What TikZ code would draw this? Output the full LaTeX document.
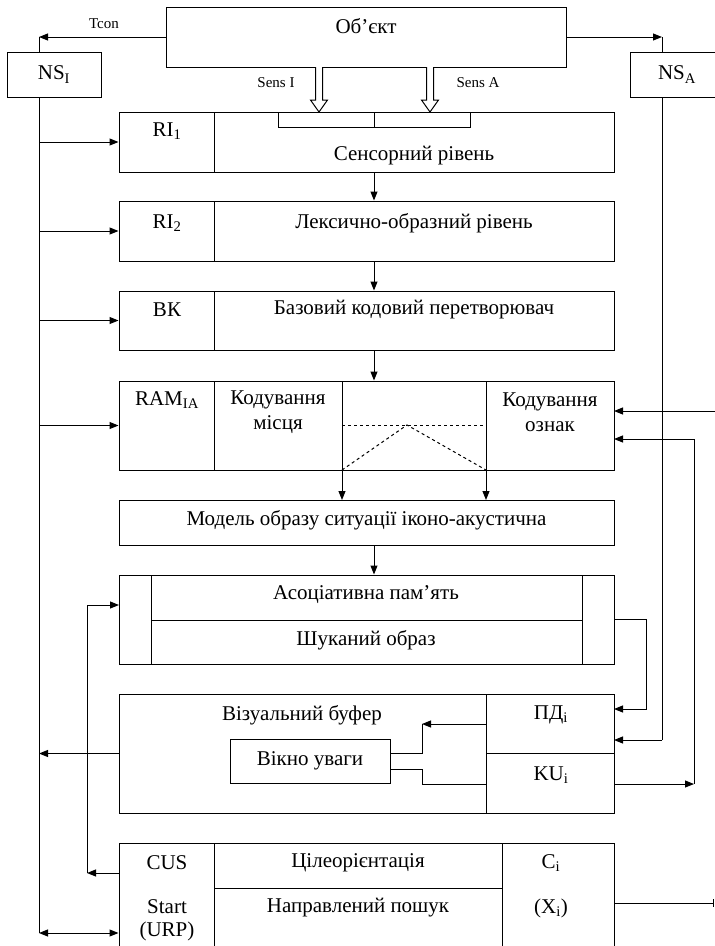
\documentclass[tikz,border=0pt]{standalone}
\usepackage{fontspec}
\setmainfont{Liberation Serif}
\usetikzlibrary{arrows.meta, positioning}

\tikzset{
  blk/.style={draw, inner sep=0pt},
  txt/.style={font=\fontsize{21}{25}\selectfont, inner sep=1pt, align=center},
  small/.style={font=\fontsize{15}{17}\selectfont, inner sep=1pt},
  arr/.style={-{Triangle[length=9pt,width=7pt]}},
  arrs/.style={{Triangle[length=9pt,width=7pt]}-{Triangle[length=9pt,width=7pt]}},
}

\begin{document}
\begin{tikzpicture}[x=1pt, y=-1pt, line width=1pt]
\useasboundingbox (0,0) rectangle (715,946);

% object and noise sources
\node[blk, minimum width=400pt, minimum height=60pt] (obj) at (366,37) {};
\node[txt] at (366,26) {Об’єкт};
\node[blk, minimum width=94pt, minimum height=45pt, txt] (nsi) at (54,74.5) {NS\textsubscript{I}};
\node[blk, minimum width=94pt, minimum height=45pt, txt] (nsa) at (677,74.5) {NS\textsubscript{A}};
\coordinate (tl) at (39,37);
\coordinate (tr) at (662,37);
\draw[arr] (obj.west) -- (tl);
\draw (tl) -- (tl |- nsi.north);
\draw[arr] (obj.east) -- (tr);
\draw (tr) -- (tr |- nsa.north);
\node[small] at (104,24) {Tcon};
\node[small] at (276,83) {Sens I};
\node[small] at (478,83) {Sens A};

% sensor level
\node[blk, minimum width=495pt, minimum height=60pt] (sens) at (366.5,142) {};
\node[blk, anchor=north west, minimum width=95pt, minimum height=60pt] (ri1) at (sens.north west) {};
\node[blk, anchor=north, minimum width=192pt, minimum height=15pt] (sbuf) at (374,112) {};
\draw (sbuf.north) -- (sbuf.south);
\node[txt] at (167,131) {RI\textsubscript{1}};
\node[txt] at (414,156) {Сенсорний рівень};
\foreach \x in {319,430}
  \draw[fill=white] (\x-3.5,67) -- (\x-3.5,100) -- (\x-8.5,100) -- (\x,112)
    -- (\x+8.5,100) -- (\x+3.5,100) -- (\x+3.5,67);

% lexical level
\node[blk, minimum width=495pt, minimum height=60pt] (lex) at (366.5,231) {};
\node[blk, anchor=north west, minimum width=95pt, minimum height=60pt] (ri2) at (lex.north west) {};
\node[txt] at (167,223) {RI\textsubscript{2}};
\node[txt] at (414,223) {Лексично-образний рівень};

% base code converter
\node[blk, minimum width=495pt, minimum height=59pt] (bk) at (366.5,320.5) {};
\node[blk, anchor=north west, minimum width=95pt, minimum height=59pt] (bkl) at (bk.north west) {};
\node[txt] at (167,310) {ВК};
\node[txt] at (414,310) {Базовий кодовий перетворювач};

% RAM
\node[blk, minimum width=495pt, minimum height=89pt] (ram) at (366.5,425.5) {};
\foreach \x in {214,342,486}
  \draw (\x,381) -- (\x,470);
\node[txt] at (167,400) {RAM\textsubscript{IA}};
\node[txt] at (278,412) {Кодування\\місця};
\node[txt] at (550,412) {Кодування\\ознак};
\draw[dashed] (342,425) -- (486,425);
\draw[dashed] (342,470) -- (407,425) -- (486,470);

% model
\node[blk, minimum width=495pt, minimum height=45pt] (mod) at (366.5,522.5) {};
\node[txt] at (366.5,520) {Модель образу ситуації іконо-акустична};
\draw[arr] (342,470) -- (342,500);
\draw[arr] (486,470) -- (486,500);

% associative memory
\node[blk, minimum width=495pt, minimum height=89pt] (asc) at (366.5,619.5) {};
\draw (151,575) -- (151,664);
\draw (582,575) -- (582,664);
\draw (151,620) -- (582,620);
\node[txt] at (366,595) {Асоціативна пам’ять};
\node[txt] at (366,640) {Шуканий образ};

% visual buffer
\node[blk, minimum width=495pt, minimum height=119pt] (vb) at (366.5,753.5) {};
\node[blk, anchor=north east, minimum width=128pt, minimum height=59pt] (pd) at (vb.north east) {};
\node[blk, anchor=south east, minimum width=128pt, minimum height=60pt] (ku) at (vb.south east) {};
\node[txt] at (302,715) {Візуальний буфер};
\node[txt] at (551,715) {ПД\textsubscript{i}};
\node[txt] at (551,775) {KU\textsubscript{i}};
\node[blk, minimum width=160pt, minimum height=44pt, txt] (win) at (310,761) {Вікно уваги};
\coordinate (wc) at (422,724);
\draw[arr] (pd.west |- wc) -- (wc);
\draw (wc) |- (win.east |- 0,753);
\draw (win.east |- 0,769) -| (422,784) -- (ku.west |- 0,784);

% goal block
\node[blk, minimum width=495pt, minimum height=105pt] (goal) at (366.5,895.5) {};
\draw (214,843) -- (214,948);
\draw (502,843) -- (502,948);
\draw (214,888) -- (502,888);
\node[txt] at (167,863) {CUS};
\node[txt, font=\fontsize{21}{23}\selectfont] at (167,920) {Start\\(URP)};
\node[txt] at (358,863) {Цілеорієнтація};
\node[txt] at (358,908) {Направлений пошук};
\node[txt] at (551,863) {C\textsubscript{i}};
\node[txt] at (551,908) {(X\textsubscript{i})};

% main chain
\coordinate (ax) at (374,0);
\foreach \a/\b in {sens/lex, lex/bk, bk/ram, mod/asc}
  \draw[arr] (\a.south -| ax) -- (\b.north -| ax);

% left bus
\coordinate (bus) at (39,0);
\coordinate (bl) at (39,933);
\draw (tl |- nsi.south) -- (bl);
\foreach \n in {sens, lex, bk, ram}
  \draw[arr] (bus |- \n.west) -- (\n.west);
\draw[arr] (vb.west) -- (vb.west -| bus);
\draw[arrs] (bl) -- (bl -| goal.west);

% feedback from goal block
\coordinate (fb) at (87,873);
\coordinate (ain) at (119,605);
\draw[arr] (fb -| goal.west) -- (fb);
\draw[arr] (fb) |- (ain);

% right side
\draw (tr |- nsa.south) -- (662,740);
\draw[arr] (662,740) -- (614,740);
\draw[arr] (asc.east) -| (646,709) -- (614,709);
\coordinate (kc) at (694,784);
\draw[arr] (ku.east |- kc) -- (kc);
\draw[arr] (kc) |- (614,439);
\draw[arr] (715,411) -- (614,411);
\draw[-{Bar[width=8pt]}] (goal.east |- 0,903) -- (714,903);
\end{tikzpicture}
\end{document}
